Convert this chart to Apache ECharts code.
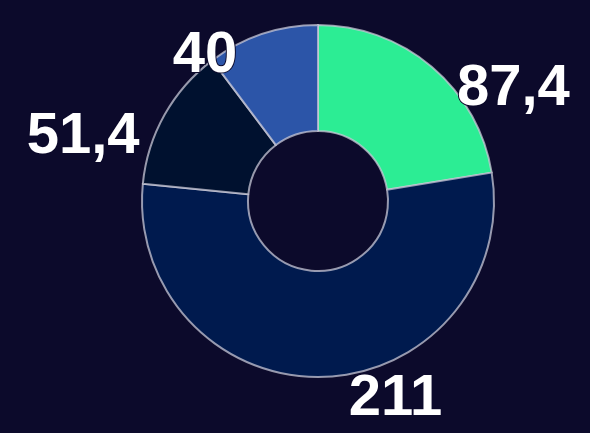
<!DOCTYPE html>
<html><head><meta charset="utf-8">
<script src="https://cdn.jsdelivr.net/npm/echarts@6/dist/echarts.min.js"></script>
<style>html,body{margin:0;padding:0;background:#0c0a2b;}#c{width:590px;height:433px;}</style>
</head><body><div id="c"></div>
<script>
const categories = ['A', 'B', 'C', 'D'];
const values = [87.4, 211, 51.4, 40];
const colors = ['#2ced94', '#001a4e', '#00112f', '#2c55a8'];

const chart = echarts.init(document.getElementById('c'));
chart.setOption({
  backgroundColor: '#0c0a2b',
  animation: false,
  series: [{
    type: 'pie',
    center: [318, 201],
    radius: [70, 176],
    startAngle: 90,
    clockwise: true,
    avoidLabelOverlap: true,
    itemStyle: { borderColor: 'rgba(200,200,215,0.75)', borderWidth: 2 },
    label: {
      show: true,
      position: 'outside',
      color: '#ffffff',
      fontFamily: 'Liberation Sans, Arial, sans-serif',
      fontWeight: 'bold',
      fontSize: 58,
      textBorderColor: '#0c0a2b',
      textBorderWidth: 2,
      formatter: p => String(p.value).replace('.', ',')
    },
    labelLine: { show: false, length: 0, length2: 20 },
    labelLayout: { dy: 22 },
    data: categories.map((c, i) => ({ name: c, value: values[i], itemStyle: { color: colors[i] } }))
  }]
});
</script></body></html>
